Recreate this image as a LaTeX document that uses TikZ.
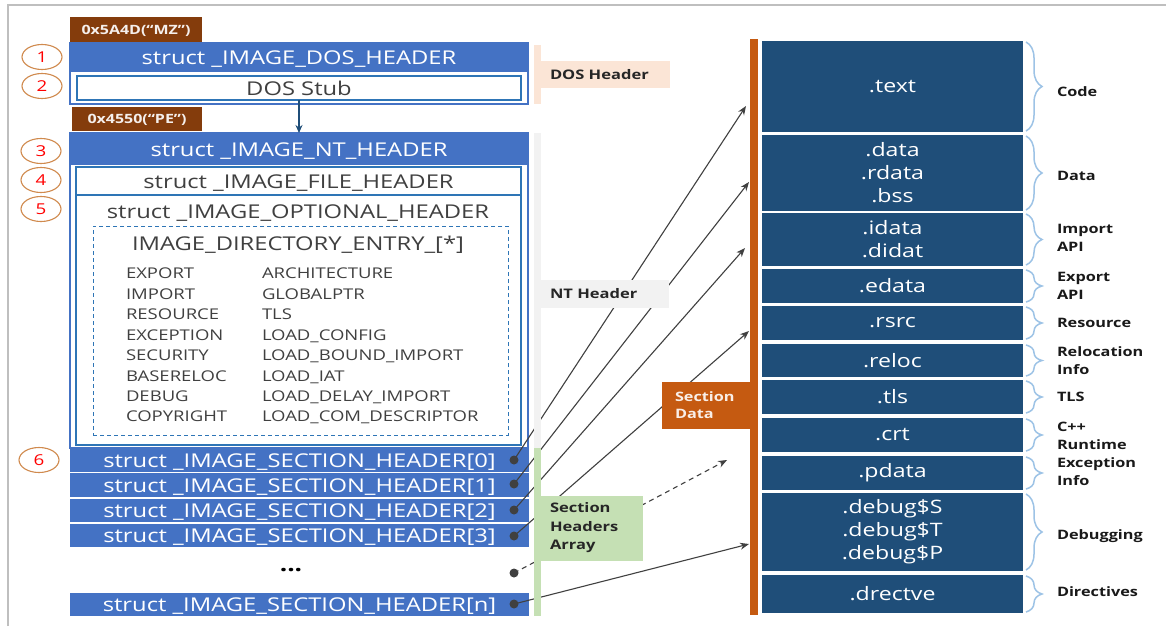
\documentclass[tikz,border=0pt]{standalone}
\usepackage{fontspec}
\setmainfont[FakeStretch=1.25]{Open Sans}
\usetikzlibrary{shapes.geometric,arrows.meta,decorations.pathreplacing}

\definecolor{hdrblue}{HTML}{4472C4}
\definecolor{lineblue}{HTML}{2E75B6}
\definecolor{navy}{HTML}{1F4E79}
\definecolor{rust}{HTML}{843C0C}
\definecolor{sdorange}{HTML}{C55A11}
\definecolor{ringcol}{HTML}{D08A4E}
\definecolor{peach}{HTML}{FBE5D6}
\definecolor{palegray}{HTML}{F2F2F2}
\definecolor{palegreen}{HTML}{C5E0B4}
\definecolor{bracecol}{HTML}{9DC3E6}
\definecolor{inkgray}{HTML}{404040}
\definecolor{framegray}{HTML}{BFBFBF}

\newcommand\fsz[2]{\fontsize{#1}{#2}\selectfont}
% box node from its corner coordinates: name, style, x1, y1, x2, y2, text
\newcommand\pebox[7]{\node[#2, minimum width={#5-#3}, minimum height={#6-#4}] (#1) at ({(#3+#5)/2},{(#4+#6)/2}) {#7};}

\tikzset{
  capcentre/.style={text height=14.5, text depth=0},
  outerbox/.style={draw=hdrblue, line width=1.2, fill=white},
  hdrrow/.style={fill=hdrblue, text=white, font=\fsz{19}{22}, capcentre},
  innerbox/.style={draw=lineblue, line width=1.3, text=inkgray, font=\fsz{19}{22}, capcentre},
  titletext/.style={text=inkgray, font=\fsz{19}{22}, capcentre},
  dashbox/.style={draw=lineblue, dash pattern=on 4pt off 3pt, line width=1},
  entry/.style={anchor=west, text=inkgray, font=\fsz{14.8}{17}, text height=11, text depth=0},
  brownlbl/.style={fill=rust, text=white!92!rust, font=\bfseries\fsz{12.8}{14}, text height=9.5, text depth=0},
  numring/.style={ellipse, draw=ringcol, line width=1.1, fill=white, text=red, minimum width=40, minimum height=25, font=\fsz{15}{16}, text height=10.5, text depth=0},
  sechdr/.style={fill=hdrblue, text=white, font=\fsz{19}{22}, capcentre},
  secdata/.style={fill=navy, text=white, align=center, font=\fsz{18.5}{23}},
  sidelbl/.style={anchor=west, align=left, text=black!90, font=\bfseries\fsz{13}{18}},
  grptext/.style={anchor=west, align=left, text=black!85, font=\bfseries\fsz{13.2}{18.5}},
  ptrdot/.style={circle, fill=inkgray, minimum size=9},
  ptr/.style={draw=inkgray, line width=1.1, -{Stealth[length=9pt, width=7pt]}},
  brace/.style={draw=bracecol, line width=1.5, decorate, decoration={brace, amplitude=16pt}},
}

\begin{document}
\begin{tikzpicture}[x=1pt, y=-1pt, every node/.style={outer sep=0pt, inner sep=0pt}]
\useasboundingbox (0,0) rectangle (1166,626);
\fill[white] (0,0) rectangle (1166,626);
\draw[framegray, line width=2] (8,626) -- (8,5) -- (1166,5);

% ---------------- DOS header ----------------
\pebox{mz}{brownlbl}{70}{17}{202}{42}{0x5A4D(“MZ”)}
\pebox{dos}{outerbox}{70}{43}{528}{104}{}
\pebox{doshdr}{hdrrow}{70}{43}{528}{72}{struct \_IMAGE\_DOS\_HEADER}
\pebox{stub}{innerbox}{77}{76}{521}{100}{DOS Stub}
\pebox{pe}{brownlbl}{72}{107}{202}{131}{0x4550(“PE”)}

% ---------------- NT header ----------------
\pebox{nt}{outerbox}{70}{133}{528}{448}{}
\pebox{nthdr}{hdrrow}{70}{133}{528}{165}{struct \_IMAGE\_NT\_HEADER}
\pebox{filehdr}{innerbox}{76}{167}{521}{195}{struct \_IMAGE\_FILE\_HEADER}
\pebox{opthdr}{innerbox}{76}{195}{521}{445}{}
\node[titletext] (opttitle) at (298,211) {struct \_IMAGE\_OPTIONAL\_HEADER};
\pebox{dirbox}{dashbox}{93}{226}{508}{435}{}
\node[titletext] (dirtitle) at (298,243) {IMAGE\_DIRECTORY\_ENTRY\_[*]};
\foreach \a/\b [count=\i] in {EXPORT/ARCHITECTURE, IMPORT/GLOBALPTR, RESOURCE/TLS,
    EXCEPTION/LOAD\_CONFIG, SECURITY/LOAD\_BOUND\_IMPORT, BASERELOC/LOAD\_IAT,
    DEBUG/LOAD\_DELAY\_IMPORT, COPYRIGHT/LOAD\_COM\_DESCRIPTOR} {
  \node[entry] (dl\i) at (126,{253+20.43*\i}) {\a};
  \node[entry] (dr\i) at (262,{253+20.43*\i}) {\b};
}
\draw[navy, line width=1.5, -{Stealth[length=8pt, width=7pt]}] (stub.south) -- (nt.north);

% ---------------- section headers ----------------
\pebox{sh0}{sechdr}{70}{448}{529}{472}{struct \_IMAGE\_SECTION\_HEADER[0]}
\pebox{sh1}{sechdr}{70}{473}{529}{497}{struct \_IMAGE\_SECTION\_HEADER[1]}
\pebox{sh2}{sechdr}{70}{499}{529}{522}{struct \_IMAGE\_SECTION\_HEADER[2]}
\pebox{sh3}{sechdr}{70}{524}{529}{547}{struct \_IMAGE\_SECTION\_HEADER[3]}
\node[font=\bfseries\fsz{21}{22}] (ellip) at (291,570) {...};
\pebox{shn}{sechdr}{70}{593}{529}{616}{struct \_IMAGE\_SECTION\_HEADER[n]}

% numbered rings
\node[numring] (n1) at (42,57) {1};
\node[numring] (n2) at (42,86) {2};
\node[numring] (n3) at (41,151) {3};
\node[numring] (n4) at (41,180) {4};
\node[numring] (n5) at (41,209) {5};
\node[numring] (n6) at (39,460) {6};

% ---------------- section data column ----------------
\pebox{stext}{secdata}{762}{41}{1023}{132}{.text}
\pebox{sdata}{secdata}{762}{135}{1023}{211}{.data\\.rdata\\.bss}
\pebox{sidata}{secdata}{762}{213}{1023}{266}{.idata\\.didat}
\pebox{sedata}{secdata}{762}{269}{1023}{303}{.edata}
\pebox{srsrc}{secdata}{762}{306}{1023}{340}{.rsrc}
\pebox{sreloc}{secdata}{762}{344}{1023}{377}{.reloc}
\pebox{stls}{secdata}{762}{380}{1023}{414}{.tls}
\pebox{scrt}{secdata}{762}{418}{1023}{452}{.crt}
\pebox{spdata}{secdata}{762}{456}{1023}{490}{.pdata}
\pebox{sdebug}{secdata}{762}{493}{1023}{571}{.debug\$S\\.debug\$T\\.debug\$P}
\pebox{sdrectve}{secdata}{762}{575}{1023}{613}{.drectve}

\foreach \s in {stext,sdata,sidata,sedata,srsrc,sreloc,stls,scrt,spdata,sdebug,sdrectve}
  \draw[brace] ([shift={(3pt,-1pt)}]\s.north east) -- ([shift={(3pt,1pt)}]\s.south east);

\node[sidelbl] (lcode) at (1057,92) {Code};
\node[sidelbl] (ldata) at (1057,176) {Data};
\node[sidelbl] (limp) at (1057,238) {Import\\API};
\node[sidelbl] (lexp) at (1057,286) {Export\\API};
\node[sidelbl] (lres) at (1057,323) {Resource};
\node[sidelbl] (lrel) at (1057,361) {Relocation\\Info};
\node[sidelbl] (ltls) at (1057,397) {TLS};
\node[sidelbl] (lcrt) at (1057,436) {C++\\Runtime};
\node[sidelbl] (lexc) at (1057,472) {Exception\\Info};
\node[sidelbl] (ldbg) at (1057,536) {Debugging};
\node[sidelbl] (ldir) at (1057,592) {Directives};

% ---------------- pointers from headers to section data ----------------
\node[ptrdot] (d0) at (514,460) {};
\node[ptrdot] (d1) at (514,484) {};
\node[ptrdot] (d2) at (514,510) {};
\node[ptrdot] (d3) at (514,536) {};
\node[ptrdot] (dd) at (514,573) {};
\node[ptrdot] (dn) at (514,604) {};
\coordinate (t0) at (746,106);
\coordinate (t1) at (749,182);
\coordinate (t2) at (745,248);
\coordinate (t3) at (749,331);
\coordinate (td) at (727,460);
\coordinate (tn) at (749,544);
\draw[ptr] (d0.center) -- (t0);
\draw[ptr] (d1.center) -- (t1);
\draw[ptr] (d2.center) -- (t2);
\draw[ptr] (d3.center) -- (t3);
\draw[ptr, dash pattern=on 5pt off 4pt] (dd.center) -- (td);
\draw[ptr] (dn.center) -- (tn);

% ---------------- region bars and their labels ----------------
\pebox{dosbar}{fill=peach}{534}{45}{541}{104}{}
\pebox{doslbl}{fill=peach}{541}{61}{670}{88}{}
\node[grptext] (doslbltext) at (550,74.5) {DOS Header};

\pebox{ntbar}{fill=palegray}{534}{133}{541}{448}{}
\pebox{ntlbl}{fill=palegray}{541}{280}{669}{308}{}
\node[grptext] (ntlbltext) at (550,294) {NT Header};

\pebox{shbar}{fill=palegreen}{534}{448}{541}{616}{}
\pebox{shlbl}{fill=palegreen}{541}{496}{643}{561}{}
\node[grptext] (shlbltext) at (550,528) {Section\\Headers\\Array};

\pebox{sdbar}{fill=sdorange}{750}{39}{758}{615}{}
\pebox{sdlbl}{fill=sdorange}{662}{382}{750}{429}{}
\node[grptext, text=white!90!sdorange, font=\bfseries\fsz{13}{17}] (sdlbltext) at (675,405.5) {Section\\Data};
\end{tikzpicture}
\end{document}
